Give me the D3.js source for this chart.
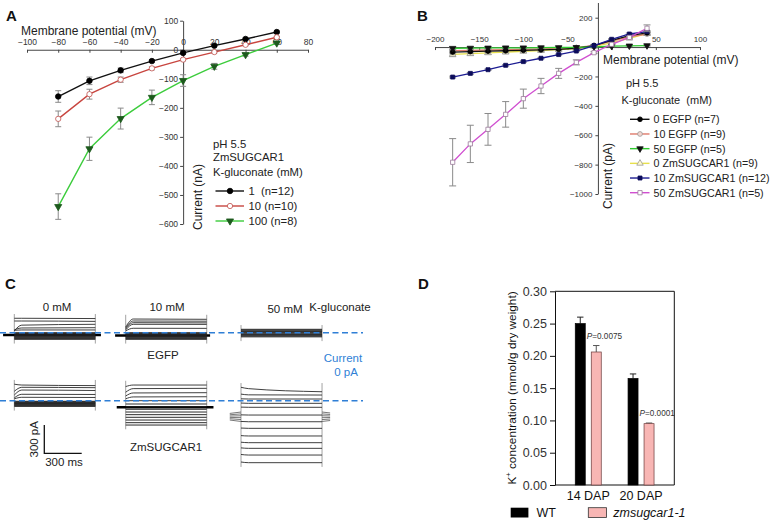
<!DOCTYPE html>
<html><head><meta charset="utf-8">
<script src="https://cdn.jsdelivr.net/npm/d3@7"></script>
<style>body{margin:0;background:#fff}svg{display:block;font-family:Arial,"Liberation Sans",sans-serif}</style>
</head><body><svg id="fig" width="776" height="521"></svg>
<script>
// ---------------- Panel A data (nA) ----------------
const aVoltages = [-80,-60,-40,-20,0,20,40,60];
const a1mM      = [-161,-107,-71,-39,-11,14,37,61];
const a1mMErr   = [20,13,8,4,3,3,3,3];
const a10mM     = [-238,-153,-103,-64,-34,-8,17,43];
const a10mMErr  = [27,17,9,5,4,3,3,3];
const a100mM    = [-540,-341,-237,-164,-106,-57,-17,23];
const a100mMErr = [44,40,36,25,20,10,5,4];
const aLegend   = ["1  (n=12)","10 (n=10)","100 (n=8)"];
const aXTicks   = [-100,-80,-60,-40,-20,0,20,40,60,80];
const aYTicks   = [100,0,-100,-200,-300,-400,-500,-600];

// ---------------- Panel B data (pA) ----------------
const bVoltages = [-180,-160,-140,-120,-100,-80,-60,-40,-20,0,20,40];
const bEGFP0    = [-34,-31,-28,-25,-22,-19,-15,-8,10,45,78,96];
const bEGFP0Err = [12,10,9,8,7,6,5,4,4,5,6,8];
const bEGFP10   = [-24,-22,-20,-18,-15,-12,-9,-3,10,40,70,88];
const bEGFP10Err= [10,9,8,7,6,5,5,4,4,5,6,8];
const bEGFP50   = [-8,-7,-6,-5,-5,-4,-3,-2,2,6,8,10];
const bEGFP50Err= [6,5,5,4,4,4,3,3,3,3,3,3];
const bZm0      = [-49,-44,-39,-34,-29,-24,-18,-10,5,28,60,92];
const bZm0Err   = [16,14,12,11,10,9,8,6,5,5,6,8];
const bZm10     = [-204,-179,-154,-124,-99,-76,-51,-27,10,53,89,105];
const bZm10Err  = [6,6,5,5,5,4,4,4,4,5,6,8];
const bZm50     = [-784,-659,-560,-458,-351,-265,-179,-104,-38,19,66,128];
const bZm50Err  = [161,127,108,87,65,52,34,17,6,4,6,23];
const bLegend   = ["0 EGFP (n=7)","10 EGFP (n=9)","50 EGFP (n=5)","0 ZmSUGCAR1 (n=9)","10 ZmSUGCAR1 (n=12)","50 ZmSUGCAR1 (n=5)"];
const bXTicks   = [-200,-150,-100,-50,50,100];
const bYTicks   = [200,-200,-400,-600,-800,-1000];
const bAxisCross = -15;

// ---------------- Panel C data: current traces (pA) at [onset, early, end] of a 650 ms pulse ----------------
const cSampleMs = [0, 60, 650];
const cEGFP0   = [[153,153,150],[124,124,120],[20,80,89],[30,50,53],[25,29,29]];
const cEGFP0Block = [0,-7,-14,-21,-28,-35,-42,-49,-56,-63,-70];
const cEGFP10  = [[60,145,142],[50,124,122],[40,106,104],[30,89,88],[20,47,46]];
const cEGFP10Block = [0,-7,-14,-21,-28,-35,-42,-49,-56,-63,-70];
const cEGFP50Block = [36,28,20,12,4,-4,-12,-20,-28,-36,-44];
const cZm0     = [[175,166,160],[100,142,138],[60,113,108],[30,68,66],[20,36,34]];
const cZm0Block = [-6,-12,-18,-24,-30,-36,-42,-48,-54,-60];
const cZm10    = [[150,166,166],[90,128,131],[50,82,85],[20,40,42],[0,0,0]];
const cZm10Block = [-35,-64,-91,-120,-148,-176,-205,-233,-258];
const cZm50    = [[142,128,95],[70,62,60],[20,18,18],[-25,-28,-28],[-68,-70,-70],[-150,-152,-152],[-220,-223,-223],[-290,-293,-293],[-370,-374,-374],[-440,-445,-445],[-500,-505,-505],[-570,-576,-576],[-650,-657,-657]];
const cZm50Tails = [-120,-140,-160,-180,-200,-220];
const cHold    = {egfp0:-25, egfp10:-30, zm10:-70};
const cScaleBar = {pA:300, ms:300};

// ---------------- Panel D data ----------------
const dCategories = ["14 DAP","20 DAP"];
const dWT     = [0.250, 0.165];
const dWTErr  = [0.010, 0.007];
const dMut    = [0.206, 0.095];
const dMutErr = [0.010, 0.001];
const dPvals  = ["0.0075","0.0001"];
const dYTicks = [0,0.05,0.10,0.15,0.20,0.25,0.30];
const dLegend = ["WT","zmsugcar1-1"];

const svg = d3.select("#fig");
const TXT = "#222";

// panel letters
[["A",6,21],["B",417,21],["C",5,289],["D",418,289]].forEach(([t,x,y]) =>
  svg.append("text").attr("x",x).attr("y",y).attr("font-size",15).attr("font-weight","bold").attr("fill","#111").text(t));

function styleAxis(g, fs){
  g.selectAll("path,line").attr("stroke","#444").attr("stroke-width",1);
  g.selectAll("text").attr("font-size",fs).attr("fill","#333").attr("font-family",'Arial,"Liberation Sans",sans-serif');
}
function sym(type, size){ return d3.symbol().type(type).size(size)(); }

function drawSeries(g, xs, ys, xv, vals, errs, color, marker, capW, lw){
  const eg = g.append("g").attr("stroke","#8a8a8a").attr("stroke-width",1);
  xv.forEach((v,i)=>{
    if(!errs) return;
    const x = xs(v), y1 = ys(vals[i]+errs[i]), y2 = ys(vals[i]-errs[i]);
    eg.append("line").attr("x1",x).attr("x2",x).attr("y1",y1).attr("y2",y2);
    eg.append("line").attr("x1",x-capW/2).attr("x2",x+capW/2).attr("y1",y1).attr("y2",y1);
    eg.append("line").attr("x1",x-capW/2).attr("x2",x+capW/2).attr("y1",y2).attr("y2",y2);
  });
  const line = d3.line().x((d,i)=>xs(xv[i])).y(d=>ys(d));
  g.append("path").attr("d",line(vals)).attr("fill","none").attr("stroke",color).attr("stroke-width",lw);
  xv.forEach((v,i)=> g.append("path").attr("d",marker.d).attr("transform",`translate(${xs(v)},${ys(vals[i])}) rotate(${marker.rot||0})`)
      .attr("fill",marker.fill).attr("stroke",marker.stroke).attr("stroke-width",0.8));
}

// ================= Panel A =================
{
  const g = svg.append("g");
  const xA = d3.scaleLinear().domain([-100,80]).range([27,308]);
  const yA = d3.scaleLinear().domain([100,-600]).range([20.7,224]);
  const gx = g.append("g").attr("transform",`translate(0,${yA(0)})`)
    .call(d3.axisTop(xA).tickValues(aXTicks).tickSizeInner(-3).tickSizeOuter(0).tickPadding(5).tickFormat(d3.format("d")));
  styleAxis(gx, 8.5);
  const gy = g.append("g").attr("transform",`translate(${xA(0)},0)`)
    .call(d3.axisLeft(yA).tickValues(aYTicks).tickSize(3).tickSizeOuter(0).tickPadding(2).tickFormat(d3.format("d")));
  styleAxis(gy, 8.5);
  g.append("text").attr("x",21).attr("y",34.5).attr("font-size",12).attr("fill",TXT).text("Membrane potential (mV)");
  g.append("text").attr("transform","translate(198,197) rotate(-90)").attr("text-anchor","middle").attr("dominant-baseline","central")
    .attr("font-size",12).attr("fill",TXT).text("Current (nA)");
  const mk = [
    {d:sym(d3.symbolCircle,24), fill:"#000", stroke:"#000", color:"#111"},
    {d:sym(d3.symbolCircle,22), fill:"#fff", stroke:"#c0504d", color:"#c8453f"},
    {d:sym(d3.symbolTriangle,22), rot:180, fill:"#1d5a1d", stroke:"#1d5a1d", color:"#3ccc3c"}
  ];
  const series = [[a1mM,a1mMErr],[a10mM,a10mMErr],[a100mM,a100mMErr]];
  series.forEach((s,k)=> drawSeries(g,xA,yA,aVoltages,s[0],s[1],mk[k].color,mk[k],6,1.4));
  [["pH 5.5",148],["ZmSUGCAR1",160.5],["K-gluconate (mM)",175.5]].forEach(([t,y])=>
    g.append("text").attr("x",213).attr("y",y).attr("font-size",11.3).attr("fill",TXT).text(t));
  aLegend.forEach((t,k)=>{
    const y = 191 + k*15;
    g.append("line").attr("x1",215.5).attr("x2",244).attr("y1",y).attr("y2",y).attr("stroke",mk[k].color).attr("stroke-width",1.4);
    g.append("path").attr("d",mk[k].d).attr("transform",`translate(230,${y}) rotate(${mk[k].rot||0})`).attr("fill",mk[k].fill).attr("stroke",mk[k].stroke).attr("stroke-width",0.8);
    g.append("text").attr("x",248.5).attr("y",y+4).attr("font-size",11.3).attr("fill",TXT).style("white-space","pre").text(t);
  });
}

// ================= Panel B =================
{
  const g = svg.append("g");
  const xB = d3.scaleLinear().domain([-200,100]).range([435,700]);
  const yB = d3.scaleLinear().domain([300,-1000]).range([3,194]);
  const gx = g.append("g").attr("transform",`translate(0,${yB(0)})`)
    .call(d3.axisTop(xB).tickValues(d3.range(-200,101,50)).tickSizeInner(-3).tickSizeOuter(0).tickPadding(5)
      .tickFormat(d=> bXTicks.includes(d) ? d3.format("d")(d) : ""));
  styleAxis(gx, 8);
  const gy = g.append("g").attr("transform",`translate(${xB(bAxisCross)},0)`)
    .call(d3.axisLeft(yB).tickValues(d3.range(-1000,301,200).concat([0])).tickSize(3).tickSizeOuter(0).tickPadding(3)
      .tickFormat(d=> bYTicks.includes(d) ? d3.format("d")(d) : ""));
  gy.select(".domain").attr("d",`M0,${yB(300)}V${yB(-1000)}`);
  styleAxis(gy, 8);
  g.append("text").attr("x",603).attr("y",63.5).attr("font-size",12).attr("fill",TXT).text("Membrane potential (mV)");
  g.append("text").attr("transform","translate(607.5,176) rotate(-90)").attr("text-anchor","middle").attr("dominant-baseline","central")
    .attr("font-size",12).attr("fill",TXT).text("Current (pA)");
  const mk = [
    {d:sym(d3.symbolCircle,18), fill:"#000", stroke:"#000", color:"#111"},
    {d:sym(d3.symbolCircle,18), fill:"#f4d6d0", stroke:"#999", color:"#df7b6c"},
    {d:sym(d3.symbolTriangle,18), rot:180, fill:"#111", stroke:"#111", color:"#2fcb2f"},
    {d:sym(d3.symbolTriangle,18), fill:"#fffbd0", stroke:"#999", color:"#e7e04c"},
    {d:sym(d3.symbolSquare,16), fill:"#0c0c5a", stroke:"#0c0c5a", color:"#1c1c92"},
    {d:sym(d3.symbolSquare,18), fill:"#fff", stroke:"#9a7a9a", color:"#d04fd0"}
  ];
  const series = [[bEGFP0,bEGFP0Err],[bEGFP10,bEGFP10Err],[bEGFP50,bEGFP50Err],[bZm0,bZm0Err],[bZm10,bZm10Err],[bZm50,bZm50Err]];
  const order = [3,1,0,2,4,5];
  order.forEach(k=> drawSeries(g,xB,yB,bVoltages,series[k][0],series[k][1],mk[k].color,mk[k],7,1.3));
  [["pH 5.5",626,86.5],["K-gluconate  (mM)",621.5,104]].forEach(([t,x,y])=>
    g.append("text").attr("x",x).attr("y",y).attr("font-size",11).attr("fill",TXT).style("white-space","pre").text(t));
  bLegend.forEach((t,k)=>{
    const y = 119.3 + k*14.68;
    g.append("line").attr("x1",630).attr("x2",649.5).attr("y1",y).attr("y2",y).attr("stroke",mk[k].color).attr("stroke-width",1.4);
    g.append("path").attr("d",mk[k].d).attr("transform",`translate(640,${y}) rotate(${mk[k].rot||0})`).attr("fill",mk[k].fill).attr("stroke",mk[k].stroke).attr("stroke-width",0.8);
    g.append("text").attr("x",653.5).attr("y",y+4).attr("font-size",10.7).attr("fill",TXT).text(t);
  });
}

// ================= Panel C =================
{
  const g = svg.append("g");
  const pxPerPA = 28.3/300, pxPerMs = 37.4/300;
  const pulseMs = cSampleMs[cSampleMs.length-1];
  const groups = [
    {x0:14.3, zero:332.7, traces:cEGFP0, block:cEGFP0Block, hold:cHold.egfp0, pre:90, post:45},
    {x0:125.7, zero:332.7, traces:cEGFP10, block:cEGFP10Block, hold:cHold.egfp10, pre:85, post:27},
    {x0:241, zero:332.7, traces:[], block:cEGFP50Block},
    {x0:14.3, zero:400.7, traces:cZm0, block:cZm0Block},
    {x0:125.7, zero:400.7, traces:cZm10, block:cZm10Block, hold:cHold.zm10, pre:72, post:54},
    {x0:241, zero:400.7, traces:cZm50, block:[], tails:cZm50Tails, pre:90, post:65}
  ];
  groups.forEach(G=>{
    const t = d3.scaleLinear().domain([0,pulseMs]).range([G.x0, G.x0+pulseMs*pxPerMs]);
    const yI = d3.scaleLinear().domain([0,300]).range([G.zero, G.zero-300*pxPerPA]);
    const all = G.traces.flat().concat(G.block);
    const top = d3.max(all)+45, bot = d3.min(all)-45;
    [0,pulseMs].forEach(ms => g.append("line").attr("x1",t(ms)).attr("x2",t(ms)).attr("y1",yI(top)).attr("y2",yI(bot))
      .attr("stroke","#8a8a8a").attr("stroke-width",0.8));
    if(G.hold!==undefined){
      g.append("line").attr("x1",t(-G.pre)).attr("x2",t(pulseMs+G.post)).attr("y1",yI(G.hold)).attr("y2",yI(G.hold))
        .attr("stroke","#000").attr("stroke-width",2.6);
    }
    if(G.tails){
      G.tails.forEach((v,i)=>{
        g.append("line").attr("x1",t(-G.pre)).attr("x2",t(0)).attr("y1",yI(v+(i-2.5)*6)).attr("y2",yI(v)).attr("stroke","#555").attr("stroke-width",0.8);
        g.append("line").attr("x1",t(pulseMs)).attr("x2",t(pulseMs+G.post)).attr("y1",yI(v)).attr("y2",yI(v+(i-2.5)*4)).attr("stroke","#555").attr("stroke-width",0.8);
      });
    }
    G.block.forEach(v=> g.append("line").attr("x1",t(0)).attr("x2",t(pulseMs)).attr("y1",yI(v)).attr("y2",yI(v))
      .attr("stroke","#222").attr("stroke-width",0.95));
    const ln = d3.line().x((d,i)=>t(cSampleMs[i])).y(d=>yI(d)).curve(d3.curveMonotoneX);
    G.traces.forEach(tr => g.append("path").attr("d",ln(tr)).attr("fill","none").attr("stroke","#2a2a2a").attr("stroke-width",0.9));
  });
  [332.7,400.7].forEach(y => g.append("line").attr("x1",0).attr("x2",363).attr("y1",y).attr("y2",y)
    .attr("stroke","#2f7fd6").attr("stroke-width",1.6).attr("stroke-dasharray","6,3.5"));
  [["0 mM",57,311],["10 mM",167,311],["50 mM",285,313]].forEach(([s,x,y])=>
    g.append("text").attr("x",x).attr("y",y).attr("text-anchor","middle").attr("font-size",11.5).attr("fill",TXT).text(s));
  g.append("text").attr("x",340).attr("y",311).attr("text-anchor","middle").attr("font-size",11.5).attr("fill",TXT).text("K-gluconate");
  g.append("text").attr("x",163).attr("y",359).attr("text-anchor","middle").attr("font-size",11.5).attr("fill",TXT).text("EGFP");
  g.append("text").attr("x",166).attr("y",451).attr("text-anchor","middle").attr("font-size",11.5).attr("fill",TXT).text("ZmSUGCAR1");
  g.append("text").attr("x",343).attr("y",362).attr("text-anchor","middle").attr("font-size",11.5).attr("fill","#2f7fd6").text("Current");
  g.append("text").attr("x",346).attr("y",376).attr("text-anchor","middle").attr("font-size",11.5).attr("fill","#2f7fd6").text("0 pA");
  const sx = 44.3, sy = 453.3;
  g.append("path").attr("d",`M${sx},${sy - cScaleBar.pA*pxPerPA}V${sy}H${sx + cScaleBar.ms*pxPerMs}`).attr("fill","none").attr("stroke","#111").attr("stroke-width",1.3);
  g.append("text").attr("transform",`translate(38,${sy-14}) rotate(-90)`).attr("text-anchor","middle").attr("font-size",11.5).attr("fill",TXT).text(cScaleBar.pA+" pA");
  g.append("text").attr("x",64).attr("y",466).attr("text-anchor","middle").attr("font-size",11.5).attr("fill",TXT).text(cScaleBar.ms+" ms");
}

// ================= Panel D =================
{
  const g = svg.append("g");
  const x0 = 555, x1 = 674.3;
  const yD = d3.scaleLinear().domain([0,0.30]).range([485,291.3]);
  const xC = d3.scaleBand().domain(dCategories).range([x0,x1]).paddingInner(0).paddingOuter(0.13);
  const gy = g.append("g").attr("transform",`translate(${x0},0)`)
    .call(d3.axisLeft(yD).tickValues(dYTicks).tickSize(5).tickSizeOuter(0).tickPadding(3).tickFormat(d3.format(".2f")));
  styleAxis(gy, 12.5);
  gy.selectAll("path,line").attr("stroke","#111");
  g.append("path").attr("d",`M${x0},${yD(0.30)}H${x1}V${yD(0)}H${x0}`).attr("fill","none").attr("stroke","#111").attr("stroke-width",1);
  dCategories.forEach((c,i)=>{
    const cx = xC(c) + xC.bandwidth()/2;
    const sub = d3.scaleBand().domain(["wt","mut"]).range([cx-13,cx+13]).paddingInner(0.375);
    const bars = [["wt",dWT[i],dWTErr[i],"#000","#000"],["mut",dMut[i],dMutErr[i],"#f8b6b4","#6a3a3a"]];
    bars.forEach(([k,v,e,fill,stroke])=>{
      const bx = sub(k), bw = sub.bandwidth();
      g.append("line").attr("x1",bx+bw/2).attr("x2",bx+bw/2).attr("y1",yD(v)).attr("y2",yD(v+e)).attr("stroke",k==="wt"?"#222":"#555").attr("stroke-width",1);
      g.append("line").attr("x1",bx+bw/2-3.2).attr("x2",bx+bw/2+3.2).attr("y1",yD(v+e)).attr("y2",yD(v+e)).attr("stroke",k==="wt"?"#222":"#555").attr("stroke-width",1);
      g.append("rect").attr("x",bx).attr("y",yD(v)).attr("width",bw).attr("height",yD(0)-yD(v)).attr("fill",fill).attr("stroke",stroke).attr("stroke-width",0.7);
    });
    const pt = g.append("text").attr("x",sub("wt")+sub.bandwidth()+1.5).attr("y",yD(dMut[i]+dMutErr[i])-7).attr("font-size",8.2).attr("fill","#333");
    pt.append("tspan").attr("font-style","italic").text("P");
    pt.append("tspan").text("="+dPvals[i]);
    g.append("text").attr("x",cx).attr("y",499.5).attr("text-anchor","middle").attr("font-size",12.5).attr("fill","#111").text(c);
  });
  const yt = g.append("text").attr("transform","translate(512,388) rotate(-90)").attr("text-anchor","middle").attr("dominant-baseline","central")
    .attr("font-size",11.8).attr("fill","#111");
  yt.append("tspan").text("K");
  yt.append("tspan").attr("font-size",7.5).attr("dy",-4).text("+");
  yt.append("tspan").attr("dy",4).text(" concentration (mmol/g dry weight)");
  g.append("rect").attr("x",510.7).attr("y",507.7).attr("width",17.7).attr("height",9.8).attr("fill","#000");
  g.append("text").attr("x",536.5).attr("y",517).attr("font-size",12.5).attr("fill","#111").text(dLegend[0]);
  g.append("rect").attr("x",588.3).attr("y",507.7).attr("width",18.3).attr("height",9.8).attr("fill","#f8b6b4").attr("stroke","#333").attr("stroke-width",0.8);
  g.append("text").attr("x",613.3).attr("y",517).attr("font-size",12.5).attr("font-style","italic").attr("fill","#111").text(dLegend[1]);
}
</script></body></html>
